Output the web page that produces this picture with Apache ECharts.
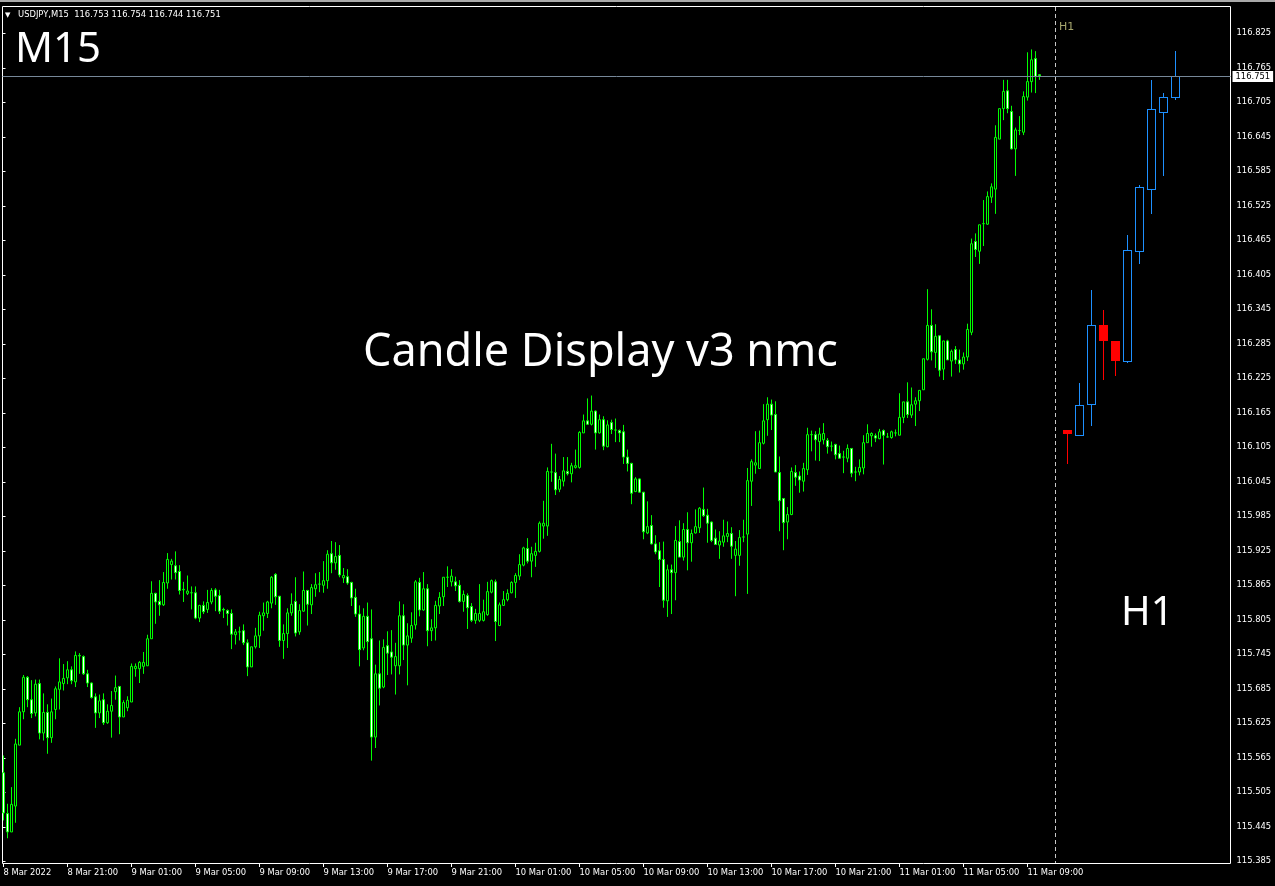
<!DOCTYPE html>
<html><head><meta charset="utf-8">
<script src="https://cdn.jsdelivr.net/npm/echarts@6.0.0/dist/echarts.min.js"></script>
<style>html,body{margin:0;padding:0;background:#000;}#c{width:1275px;height:886px;}</style>
</head><body><div id="c"></div><script>
// ---------- DATA ----------
// M15 candles, [open, high, low, close], starting 8 Mar 2022 17:00
const m15Candles = [
[115.539,115.569,115.456,115.469],[115.468,115.485,115.425,115.436],[115.436,115.514,115.436,115.484],[115.481,115.598,115.452,115.589],[115.587,115.653,115.587,115.645],
[115.645,115.709,115.632,115.705],[115.705,115.707,115.653,115.666],[115.666,115.700,115.634,115.642],[115.643,115.701,115.637,115.693],[115.694,115.701,115.597,115.608],
[115.608,115.677,115.595,115.644],[115.644,115.658,115.572,115.600],[115.600,115.668,115.591,115.645],[115.649,115.689,115.632,115.685],[115.684,115.738,115.649,115.697],
[115.694,115.728,115.682,115.703],[115.704,115.733,115.693,115.718],[115.718,115.724,115.693,115.699],[115.697,115.750,115.688,115.743],[115.742,115.747,115.711,115.743],
[115.741,115.743,115.709,115.711],[115.711,115.718,115.688,115.695],[115.695,115.696,115.668,115.670],[115.671,115.677,115.617,115.643],[115.643,115.675,115.634,115.664],
[115.666,115.677,115.622,115.626],[115.626,115.658,115.624,115.646],[115.646,115.681,115.600,115.656],[115.680,115.708,115.666,115.687],[115.689,115.690,115.606,115.636],
[115.636,115.665,115.636,115.661],[115.652,115.672,115.646,115.665],[115.662,115.729,115.662,115.724],[115.720,115.729,115.706,115.724],[115.720,115.733,115.695,115.731],
[115.724,115.749,115.711,115.731],[115.725,115.779,115.725,115.772],[115.772,115.872,115.772,115.851],[115.851,115.852,115.798,115.836],[115.837,115.874,115.812,115.831],
[115.831,115.888,115.829,115.870],[115.869,115.921,115.859,115.910],[115.901,115.911,115.875,115.907],[115.899,115.924,115.875,115.887],[115.889,115.900,115.849,115.856],
[115.857,115.871,115.836,115.858],[115.851,115.882,115.848,115.855],[115.852,115.863,115.823,115.852],[115.852,115.863,115.806,115.808],[115.808,115.831,115.801,115.830],
[115.830,115.837,115.815,115.819],[115.823,115.857,115.817,115.835],[115.836,115.860,115.832,115.856],[115.857,115.860,115.820,115.846],[115.847,115.857,115.815,115.820],
[115.823,115.826,115.808,115.822],[115.821,115.823,115.795,115.816],[115.816,115.823,115.754,115.780],[115.779,115.789,115.762,115.784],[115.784,115.793,115.769,115.784],
[115.786,115.797,115.761,115.765],[115.765,115.771,115.707,115.723],[115.723,115.758,115.723,115.758],[115.758,115.791,115.755,115.777],[115.777,115.819,115.756,115.813],
[115.812,115.835,115.786,115.817],[115.816,115.838,115.808,115.836],[115.834,115.881,115.825,115.879],[115.884,115.886,115.831,115.845],[115.846,115.846,115.758,115.769],
[115.769,115.797,115.737,115.781],[115.781,115.825,115.756,115.817],[115.817,115.851,115.812,115.832],[115.837,115.879,115.776,115.782],[115.784,115.832,115.779,115.821],
[115.820,115.889,115.819,115.856],[115.856,115.857,115.795,115.832],[115.831,115.867,115.815,115.861],[115.859,115.886,115.845,115.866],[115.867,115.888,115.853,115.867],
[115.865,115.907,115.852,115.873],[115.873,115.926,115.859,115.919],[115.920,115.942,115.886,115.904],[115.904,115.940,115.892,115.915],[115.917,115.935,115.879,115.883],
[115.878,115.895,115.869,115.882],[115.880,115.893,115.866,115.869],[115.870,115.871,115.829,115.843],[115.844,115.859,115.810,115.815],[115.815,115.830,115.724,115.753],
[115.756,115.825,115.752,115.811],[115.811,115.835,115.735,115.767],[115.772,115.823,115.560,115.601],[115.601,115.727,115.582,115.711],[115.711,115.769,115.656,115.686],
[115.688,115.771,115.686,115.757],[115.760,115.785,115.709,115.747],[115.749,115.787,115.710,115.740],[115.725,115.765,115.675,115.741],[115.725,115.837,115.710,115.812],
[115.812,115.832,115.735,115.761],[115.761,115.799,115.691,115.777],[115.773,115.818,115.765,115.795],[115.796,115.874,115.788,115.871],[115.870,115.878,115.811,115.822],
[115.822,115.888,115.821,115.859],[115.859,115.867,115.759,115.786],[115.786,115.806,115.768,115.791],[115.791,115.838,115.769,115.830],[115.829,115.853,115.815,115.844],
[115.845,115.879,115.829,115.879],[115.879,115.898,115.862,115.879],[115.871,115.893,115.863,115.881],[115.871,115.880,115.855,115.864],[115.865,115.874,115.835,115.837],
[115.837,115.856,115.819,115.849],[115.847,115.851,115.789,115.826],[115.828,115.834,115.801,115.804],[115.804,115.824,115.798,115.816],[115.804,115.867,115.801,115.816],
[115.804,115.840,115.802,115.819],[115.814,115.871,115.812,115.854],[115.853,115.875,115.851,115.873],[115.871,115.875,115.768,115.802],[115.795,115.835,115.794,115.831],
[115.830,115.855,115.829,115.840],[115.840,115.858,115.837,115.851],[115.852,115.872,115.851,115.870],[115.870,115.886,115.843,115.882],[115.881,115.919,115.874,115.901],
[115.900,115.932,115.898,115.930],[115.929,115.947,115.903,115.907],[115.907,115.932,115.879,115.920],[115.917,115.939,115.897,115.924],[115.924,115.976,115.922,115.973],
[115.968,116.012,115.946,115.973],[115.968,116.070,115.951,116.063],[116.062,116.111,116.045,116.062],[116.061,116.094,116.022,116.031],[116.032,116.055,116.027,116.049],
[116.046,116.088,116.037,116.064],[116.063,116.088,116.056,116.059],[116.059,116.078,116.044,116.073],[116.070,116.101,116.068,116.073],[116.070,116.133,116.068,116.131],
[116.130,116.162,116.130,116.151],[116.151,116.190,116.144,116.145],[116.145,116.195,116.143,116.168],[116.168,116.169,116.101,116.130],[116.130,116.162,116.129,116.153],
[116.153,116.159,116.100,116.107],[116.106,116.152,116.105,116.144],[116.148,116.153,116.128,116.136],[116.135,116.155,116.114,116.135],[116.134,116.136,116.114,116.130],
[116.132,116.144,116.076,116.088],[116.088,116.101,116.063,116.077],[116.077,116.078,116.006,116.025],[116.028,116.053,116.027,116.050],[116.050,116.051,116.026,116.027],
[116.027,116.027,115.945,115.958],[115.956,116.011,115.954,115.967],[115.969,115.987,115.936,115.937],[115.937,115.952,115.919,115.923],[115.925,115.940,115.862,115.910],
[115.910,115.941,115.826,115.839],[115.838,115.901,115.810,115.892],[115.892,115.901,115.815,115.887],[115.887,115.968,115.839,115.943],[115.941,115.978,115.914,115.914],
[115.914,115.973,115.908,115.962],[115.962,115.992,115.891,115.939],[115.939,115.962,115.906,115.955],[115.956,115.997,115.955,115.967],[115.965,116.001,115.956,115.999],
[115.997,116.035,115.984,115.986],[115.987,115.998,115.939,115.973],[115.975,115.976,115.940,115.943],[115.947,115.962,115.935,115.936],[115.935,115.959,115.911,115.942],
[115.940,115.979,115.932,115.951],[115.950,115.976,115.940,115.955],[115.955,115.966,115.911,115.933],[115.917,115.942,115.846,115.928],[115.917,115.961,115.899,115.948],
[115.949,115.979,115.940,115.949],[115.954,116.069,115.850,116.047],[116.046,116.084,116.003,116.080],[116.074,116.133,116.059,116.078],[116.068,116.134,116.068,116.113],
[116.112,116.180,116.110,116.151],[116.153,116.192,116.125,116.180],[116.180,116.188,116.135,116.161],[116.162,116.185,116.062,116.062],[116.061,116.089,115.959,116.012],
[116.016,116.016,115.926,115.974],[115.975,116.001,115.945,115.988],[115.988,116.070,115.987,116.063],[116.061,116.074,116.038,116.053],[116.055,116.063,116.026,116.048],
[116.046,116.078,116.028,116.068],[116.066,116.139,116.057,116.127],[116.127,116.134,116.098,116.127],[116.127,116.133,116.082,116.118],[116.115,116.139,116.081,116.128],
[116.118,116.147,116.110,116.129],[116.117,116.121,116.094,116.106],[116.107,116.115,116.098,116.107],[116.110,116.111,116.084,116.092],[116.094,116.108,116.086,116.086],
[116.088,116.099,116.060,116.088],[116.086,116.110,116.079,116.103],[116.103,116.103,116.053,116.060],[116.062,116.071,116.046,116.062],[116.062,116.084,116.056,116.070],
[116.069,116.126,116.058,116.113],[116.113,116.145,116.113,116.129],[116.125,116.131,116.106,116.129],[116.125,116.129,116.114,116.121],[116.120,116.137,116.119,116.132],
[116.134,116.136,116.075,116.126],[116.123,116.130,116.122,116.123],[116.122,116.134,116.120,116.132],[116.130,116.136,116.124,116.130],[116.126,116.199,116.126,116.157],
[116.157,116.184,116.147,116.184],[116.184,116.218,116.156,116.162],[116.161,116.209,116.156,116.179],[116.180,116.192,116.142,116.186],[116.186,116.204,116.168,116.204],
[116.205,116.259,116.205,116.259],[116.258,116.380,116.256,116.317],[116.317,116.345,116.256,116.271],[116.270,116.319,116.243,116.298],[116.299,116.299,116.228,116.239],
[116.241,116.290,116.222,116.290],[116.290,116.292,116.257,116.257],[116.255,116.275,116.228,116.272],[116.275,116.281,116.250,116.257],[116.257,116.275,116.235,116.250],
[116.250,116.270,116.240,116.262],[116.262,116.320,116.255,116.310],[116.305,116.468,116.300,116.459],[116.463,116.477,116.436,116.449],[116.446,116.492,116.424,116.492],
[116.494,116.535,116.455,116.494],[116.493,116.550,116.492,116.541],[116.540,116.564,116.530,116.558],[116.554,116.665,116.511,116.644],[116.641,116.694,116.641,116.694],
[116.694,116.744,116.674,116.724],[116.725,116.744,116.686,116.694],[116.689,116.699,116.623,116.624],[116.624,116.661,116.577,116.657],[116.656,116.681,116.648,116.656],
[116.653,116.724,116.648,116.715],[116.714,116.792,116.708,116.741],[116.741,116.797,116.722,116.779],[116.781,116.794,116.721,116.750],[116.753,116.754,116.744,116.751]
];
// H1 candles, [open, high, low, close]
const h1Times = ['11 Mar 00:00','11 Mar 01:00','11 Mar 02:00','11 Mar 03:00','11 Mar 04:00','11 Mar 05:00','11 Mar 06:00','11 Mar 07:00','11 Mar 08:00','11 Mar 09:00'];
const h1Candles = [
[116.135,116.135,116.078,116.130],[116.126,116.216,116.126,116.179],[116.181,116.378,116.143,116.317],[116.317,116.343,116.223,116.292],[116.290,116.290,116.230,116.257],
[116.255,116.475,116.253,116.449],[116.446,116.562,116.425,116.558],[116.554,116.743,116.512,116.694],[116.688,116.722,116.579,116.715],[116.714,116.795,116.711,116.751]
];
const xTickLabels = ['8 Mar 2022','8 Mar 21:00','9 Mar 01:00','9 Mar 05:00','9 Mar 09:00','9 Mar 13:00','9 Mar 17:00','9 Mar 21:00',
  '10 Mar 01:00','10 Mar 05:00','10 Mar 09:00','10 Mar 13:00','10 Mar 17:00','10 Mar 21:00','11 Mar 01:00','11 Mar 05:00','11 Mar 09:00'];
const yTickValues = [116.825,116.765,116.705,116.645,116.585,116.525,116.465,116.405,116.345,116.285,116.225,116.165,116.105,
  116.045,115.985,115.925,115.865,115.805,115.745,115.685,115.625,115.565,115.505,115.445,115.385];
const lastPrice = 116.751;
const headerText = 'USDJPY,M15  116.753 116.754 116.744 116.751';

// ---------- BUILD ----------
const months = ['Jan','Feb','Mar','Apr','May','Jun','Jul','Aug','Sep','Oct','Nov','Dec'];
const m15Times = [];
{
  let t = Date.UTC(2022, 2, 8, 17, 0);
  for (let i = 0; i < m15Candles.length; i++) {
    const d = new Date(t);
    m15Times.push(d.getUTCDate() + ' ' + months[d.getUTCMonth()] + ' ' +
      String(d.getUTCHours()).padStart(2, '0') + ':' + String(d.getUTCMinutes()).padStart(2, '0'));
    t += 15 * 60000;
  }
}
const toEc = rows => rows.map(r => [r[0], r[3], r[2], r[1]]);
const BULL_H1 = '#1e90ff', BEAR_H1 = '#ff0000';
// custom-series rows: [category index, open, close, low, high]
const h1Data = h1Candles.map((r, i) => [i, r[0], r[3], r[2], r[1]]);

// pixel-exact candle built from filled rectangles (no anti-aliased strokes)
function renderH1(params, api) {
  const i = api.value(0), o = api.value(1), c = api.value(2), l = api.value(3), h = api.value(4);
  const pO = api.coord([i, o]), pC = api.coord([i, c]), pL = api.coord([i, l]), pH = api.coord([i, h]);
  const cx = Math.floor(pO[0]);
  const up = c >= o;
  const col = up ? BULL_H1 : BEAR_H1;
  const top = Math.round(Math.min(pO[1], pC[1]));
  let bot = Math.round(Math.max(pO[1], pC[1]));
  if (bot - top < 2) bot = top + 2;
  const yH = Math.round(pH[1]), yL = Math.round(pL[1]);
  const half = 4;
  const kids = [
    {type: 'rect', shape: {x: cx, y: yH, width: 1, height: Math.max(0, top - yH)}, style: {fill: col}},
    {type: 'rect', shape: {x: cx, y: bot, width: 1, height: Math.max(0, yL - bot + 1)}, style: {fill: col}},
    {type: 'rect', shape: {x: cx - half, y: top, width: half * 2 + 1, height: bot - top + 1}, style: {fill: col}}
  ];
  if (up && bot - top >= 2) {
    kids.push({type: 'rect', shape: {x: cx - half + 1, y: top + 1, width: half * 2 - 1, height: bot - top - 1}, style: {fill: '#000'}});
  }
  return {type: 'group', children: kids};
}

const Y_MIN = 115.382, Y_MAX = 116.8725;
const TOP = 6, H = 857;
const FONT = '"DejaVu Sans", sans-serif';
const BIG = '"Noto Sans", sans-serif';

const chart = echarts.init(document.getElementById('c'), null, {renderer: 'canvas'});
chart.setOption({
  backgroundColor: '#000',
  animation: false,
  grid: [
    {left: 1.5, top: TOP, width: 1040, height: H},
    {left: 1061.5, top: TOP, width: 120, height: H},
    {left: 2.5, top: TOP, width: 1228, height: H}
  ],
  xAxis: [
    {type: 'category', gridIndex: 0, data: m15Times, boundaryGap: true,
     axisLine: {show: false},
     axisTick: {show: true, interval: 15, alignWithLabel: true, length: 4, lineStyle: {color: '#fff'}},
     axisLabel: {interval: 15, color: '#fff', fontFamily: FONT, fontSize: 8.4, align: 'left', margin: 6,
       formatter: (v, i) => xTickLabels[Math.round(i / 16)] || ''},
     splitLine: {show: false}},
    {type: 'category', gridIndex: 1, data: h1Times, boundaryGap: true, show: false},
    {type: 'value', gridIndex: 2, min: 0, max: 1, show: false}
  ],
  yAxis: [
    {type: 'value', gridIndex: 0, min: Y_MIN, max: Y_MAX, show: false},
    {type: 'value', gridIndex: 1, min: Y_MIN, max: Y_MAX, show: false},
    {type: 'value', gridIndex: 2, min: Y_MIN, max: Y_MAX, position: 'right',
     axisLine: {show: false}, splitLine: {show: false},
     axisTick: {show: true, customValues: yTickValues, length: 3, lineStyle: {color: '#fff'}},
     axisLabel: {customValues: yTickValues, color: '#fff', fontFamily: FONT, fontSize: 8.4, margin: 6,
       formatter: v => Number(v).toFixed(3)}}
  ],
  series: [
    {type: 'candlestick', xAxisIndex: 0, yAxisIndex: 0, data: toEc(m15Candles), barWidth: 2,
     itemStyle: {color: '#000', color0: '#fff', borderColor: '#00ff00', borderColor0: '#00ff00',
       borderColorDoji: '#00ff00', borderWidth: 1}},
    {type: 'custom', xAxisIndex: 1, yAxisIndex: 1, data: h1Data, renderItem: renderH1,
     encode: {x: 0, y: [1, 2, 3, 4]}},
    {type: 'line', xAxisIndex: 2, yAxisIndex: 2, data: [], silent: true,
     markLine: {silent: true, symbol: ['none', 'none'], animation: false,
       lineStyle: {color: '#778899', width: 1, type: 'solid'},
       label: {show: true, position: 'end', distance: 2, formatter: () => lastPrice.toFixed(3),
         color: '#000', backgroundColor: '#fff', padding: [2, 3, 1, 3], fontFamily: FONT, fontSize: 8.4},
       data: [{yAxis: lastPrice}]}}
  ],
  graphic: [
    {type: 'rect', silent: true, shape: {x: 0, y: 0, width: 1275, height: 2}, style: {fill: '#a8a8a8'}},
    {type: 'rect', silent: true, z: -1, shape: {x: 2.5, y: 6.5, width: 1228, height: 857}, style: {fill: 'none', stroke: '#fff', lineWidth: 1}},
    {type: 'line', silent: true, shape: {x1: 1055.5, y1: 7, x2: 1055.5, y2: 863}, style: {stroke: '#c8c8c8', lineWidth: 1, lineDash: [4, 3]}},
    {type: 'text', silent: true, style: {text: '▼', x: 5, y: 15, fill: '#fff', font: '7px ' + FONT, textVerticalAlign: 'middle'}},
    {type: 'text', silent: true, style: {text: headerText, x: 18, y: 15, fill: '#fff', font: '8.4px ' + FONT, textVerticalAlign: 'middle'}},
    {type: 'text', silent: true, style: {text: 'M15', x: 15, y: 50, fill: '#fff', font: '42px ' + BIG, textVerticalAlign: 'middle'}},
    {type: 'text', silent: true, style: {text: 'Candle Display v3 nmc', x: 363, y: 353, fill: '#fff', font: '45px ' + BIG, textVerticalAlign: 'middle'}},
    {type: 'text', silent: true, style: {text: 'H1', x: 1121, y: 614, fill: '#fff', font: '40px ' + BIG, textVerticalAlign: 'middle'}},
    {type: 'text', silent: true, style: {text: 'H1', x: 1059, y: 27, fill: '#a4a46c', font: '11px ' + FONT, textVerticalAlign: 'middle'}}
  ]
});
</script></body></html>
